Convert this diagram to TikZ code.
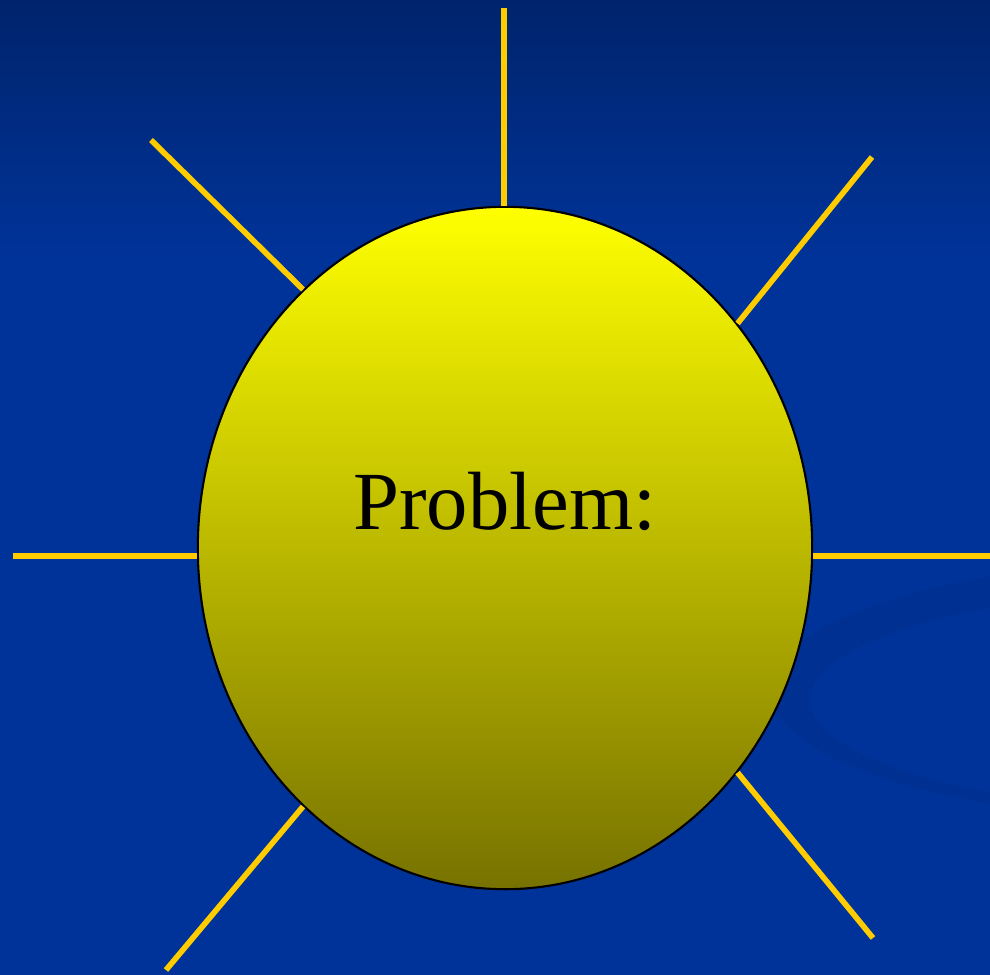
\documentclass[tikz,border=0pt]{standalone}
\usepackage{fontspec}
\setmainfont{Liberation Serif}
\usepackage{xcolor}
\usepackage{tikz}
\usetikzlibrary{positioning,shapes.geometric}
\definecolor{slideblue}{HTML}{003399}
\definecolor{slidetop}{HTML}{00246C}
\definecolor{swooshblue}{HTML}{002E8C}
\definecolor{raygold}{HTML}{FFCC00}
\definecolor{sunmid}{HTML}{D8D400}
\definecolor{sunlow}{HTML}{777200}
\tikzset{
  sunbody/.style={ellipse,draw=black,line width=0.6pt,inner sep=0pt,
    minimum width=6.14cm,minimum height=6.82cm,
    top color=yellow,middle color=sunmid,bottom color=sunlow},
  sunray/.style={draw=raygold,line width=1.6pt},
  sunlabel/.style={font=\fontsize{23.5}{28}\selectfont,text=black,anchor=base}
}

\begin{document}
\begin{tikzpicture}[x=0.01cm,y=-0.01cm]
\useasboundingbox (0,0) rectangle (990,975);
\fill[slideblue] (0,0) rectangle (990,975);
\shade[top color=slidetop, bottom color=slideblue] (0,0) rectangle (990,260);
\fill[swooshblue, even odd rule, opacity=0.6] (1200,690) ellipse [x radius=430, y radius=130] (1200,700) ellipse [x radius=390, y radius=109];

\node[sunbody] (sun) at (505,548) {};
\node[sunlabel, yshift=0.18cm] (problem) at (sun.center) {Problem:};

\coordinate (rayN) at (504,8);
\coordinate (rayNW) at (151,140);
\coordinate (rayNE) at (872,157);
\coordinate (rayW) at (13,556);
\coordinate (rayE) at (990,556);
\coordinate (raySW) at (166,970);
\coordinate (raySE) at (873,938);

\draw[sunray] (rayN) -- (rayN |- sun.north);
\draw[sunray] (rayNW) -- (sun.128);
\draw[sunray] (rayNE) -- (sun.44);
\draw[sunray] (rayW) -- (rayW -| sun.west);
\draw[sunray] (rayE) -- (rayE -| sun.east);
\draw[sunray] (raySW) -- (sun.232);
\draw[sunray] (raySE) -- (sun.316);
\end{tikzpicture}
\end{document}
